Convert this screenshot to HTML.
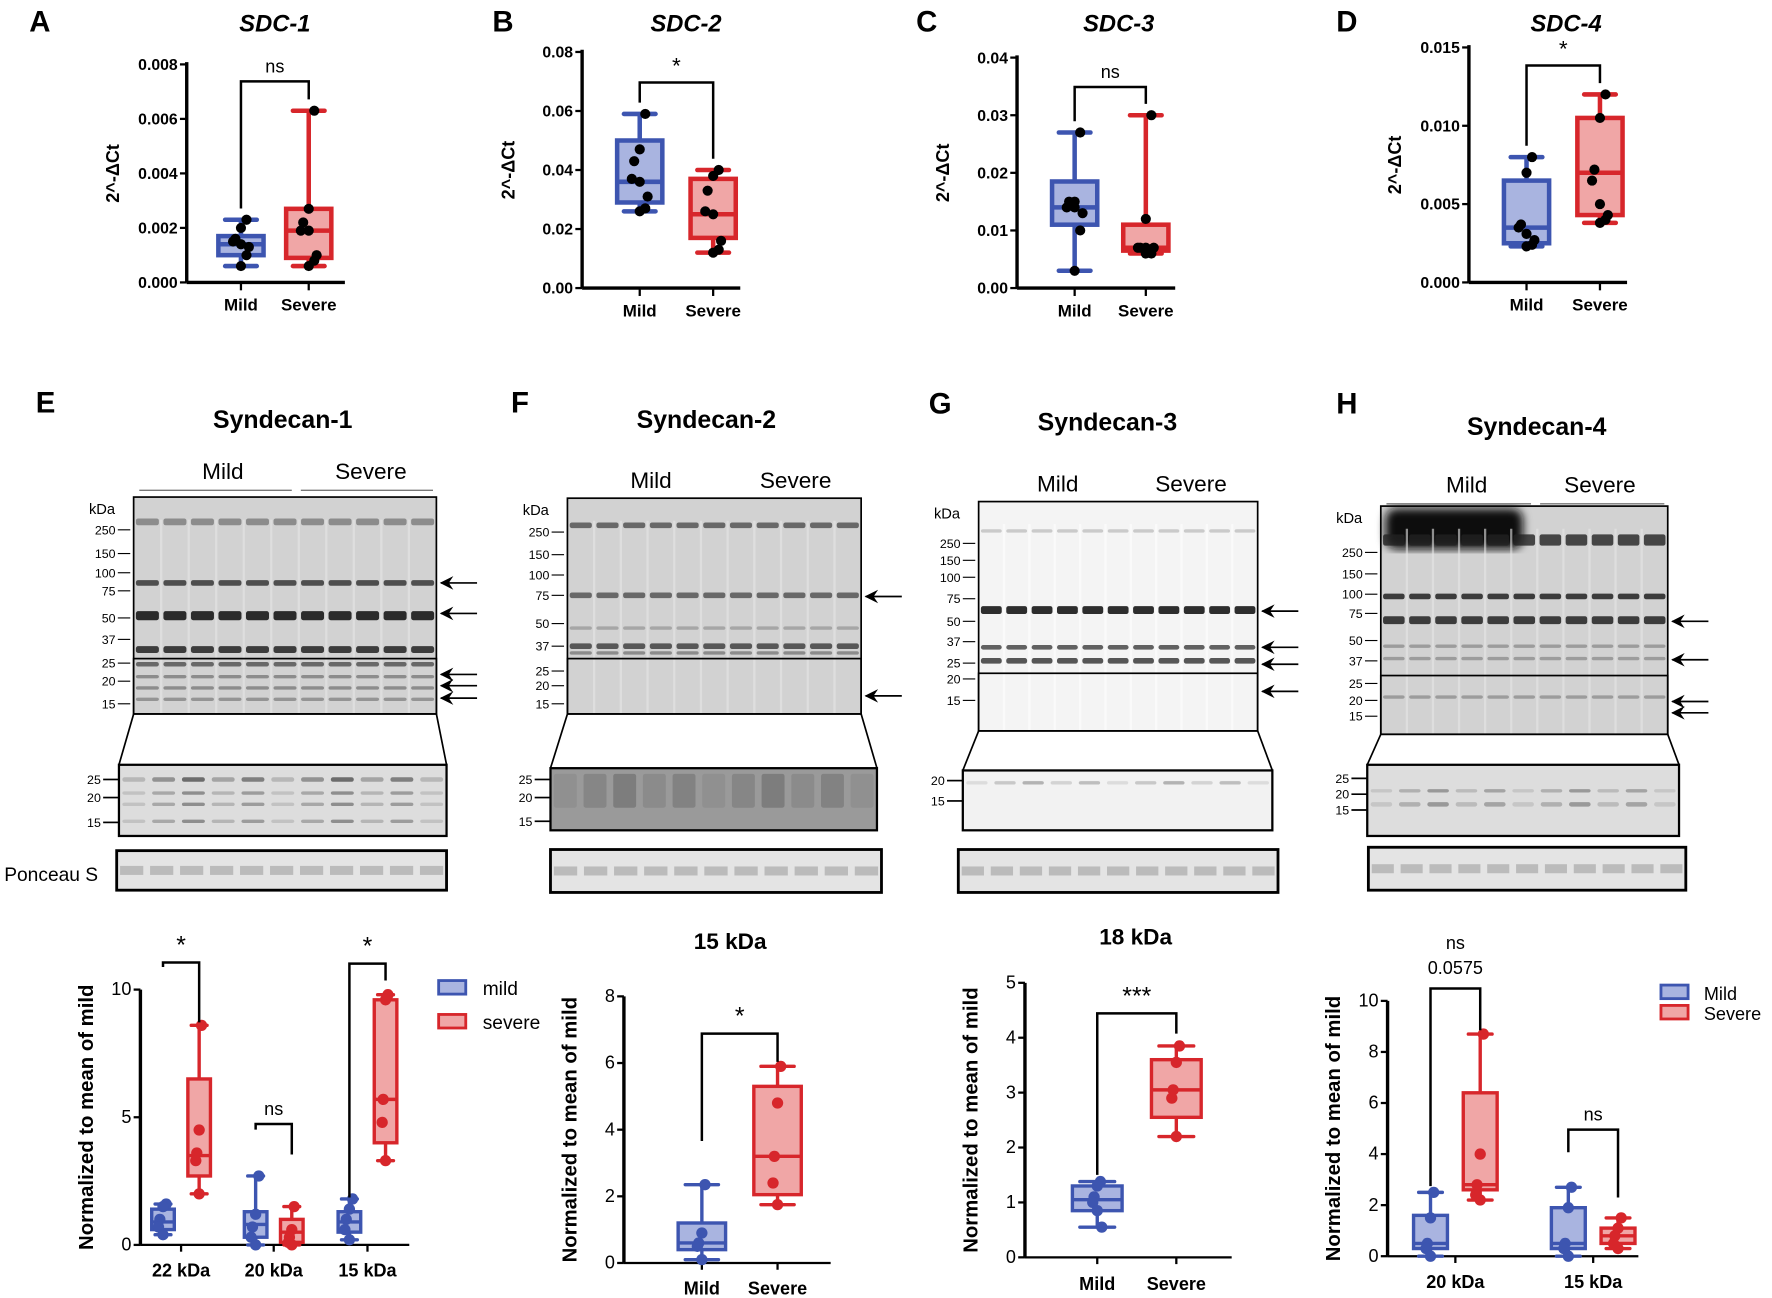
<!DOCTYPE html>
<html><head><meta charset="utf-8">
<style>
html,body{margin:0;padding:0;background:#fff;}
svg{display:block;font-family:"Liberation Sans",sans-serif;}
</style></head>
<body>
<svg id="fig" width="1772" height="1298" viewBox="0 0 1568 1149" xmlns="http://www.w3.org/2000/svg">
<defs>
<filter id="blur"><feGaussianBlur stdDeviation="4"/></filter>
</defs>
<g id="root"></g>
</svg>
<script>
// ---------- DATA ----------
const sdc1Mild=[0.0006,0.0010,0.0014,0.0017,0.0023], sdc1Severe=[0.0006,0.0009,0.0019,0.0027,0.0063];
const sdc1MildPts=[0.0023,0.0020,0.0016,0.0015,0.0014,0.0013,0.0010,0.0006], sdc1SeverePts=[0.0063,0.0027,0.0022,0.0019,0.0019,0.0010,0.0008,0.0006];
const sdc2Mild=[0.026,0.029,0.036,0.050,0.059], sdc2Severe=[0.012,0.017,0.025,0.037,0.040];
const sdc2MildPts=[0.059,0.047,0.043,0.037,0.036,0.031,0.027,0.026], sdc2SeverePts=[0.040,0.038,0.033,0.026,0.025,0.016,0.013,0.012];
const sdc3Mild=[0.003,0.011,0.014,0.0185,0.027], sdc3Severe=[0.006,0.0065,0.007,0.011,0.030];
const sdc3MildPts=[0.027,0.015,0.015,0.014,0.014,0.013,0.010,0.003], sdc3SeverePts=[0.030,0.012,0.007,0.007,0.007,0.007,0.006,0.006];
const sdc4Mild=[0.0023,0.0025,0.0035,0.0065,0.008], sdc4Severe=[0.0038,0.0043,0.007,0.0105,0.012];
const sdc4MildPts=[0.008,0.007,0.0037,0.0035,0.0031,0.0027,0.0024,0.0023], sdc4SeverePts=[0.012,0.0105,0.0072,0.0065,0.0050,0.0043,0.0040,0.0038];
const eCats=['22 kDa','20 kDa','15 kDa'];
const eMild=[[0.4,0.6,0.9,1.4,1.6],[0.0,0.3,0.8,1.3,2.7],[0.2,0.5,0.9,1.3,1.8]];
const eSevere=[[2.0,2.7,3.5,6.5,8.6],[0.0,0.1,0.5,1.0,1.5],[3.3,4.0,5.7,9.6,9.8]];
const eMildPts=[[1.6,1.5,1.0,0.7,0.4],[2.7,1.2,0.7,0.3,0.0],[1.8,1.4,1.0,0.6,0.2]];
const eSeverePts=[[8.6,4.5,3.6,3.3,2.0],[1.5,0.6,0.3,0.1,0.0],[9.8,9.6,5.7,4.8,3.3]];
const fCats=['Mild','Severe'];
const fVals=[[0.1,0.4,0.6,1.2,2.35],[1.75,2.05,3.2,5.3,5.9]];
const fPts=[[2.35,0.9,0.6,0.5,0.1],[5.9,4.8,3.2,2.4,1.75]];
const gCats=['Mild','Severe'];
const gVals=[[0.55,0.85,1.05,1.3,1.38],[2.2,2.55,3.05,3.6,3.85]];
const gPts=[[1.38,1.3,1.1,1.0,0.85,0.55],[3.85,3.55,3.05,2.9,2.2]];
const hCats=['20 kDa','15 kDa'];
const hMild=[[0.0,0.3,0.5,1.6,2.5],[0.0,0.3,0.5,1.9,2.7]];
const hSevere=[[2.2,2.6,2.8,6.4,8.7],[0.3,0.5,0.8,1.1,1.5]];
const hMildPts=[[2.5,1.5,0.5,0.3,0.0],[2.7,1.9,0.5,0.3,0.0]];
const hSeverePts=[[8.7,4.0,2.8,2.4,2.2],[1.5,1.1,0.8,0.5,0.3]];

// ---------- HELPERS ----------
const NS='http://www.w3.org/2000/svg';
const root=document.getElementById('root');
function el(tag,attrs,parent,txt){const e=document.createElementNS(NS,tag);for(const k in attrs)e.setAttribute(k,attrs[k]);if(txt!==undefined)e.textContent=txt;(parent||root).appendChild(e);return e;}
function txt(x,y,s,size,opts){opts=opts||{};const t=el('text',{x:x,y:y,'font-size':size,'text-anchor':opts.anchor||'middle','font-weight':opts.weight||'normal','font-style':opts.style||'normal',fill:opts.fill||'#000'},opts.parent,s);if(opts.rot)t.setAttribute('transform','rotate(-90 '+x+' '+y+')');return t;}
const BLUE='#3d55b0',BLUEF='#a9b4e0',RED='#d7262b',REDF='#f0a6a6';
function box(g,x,w,v,sc,col,fill,lw){
 const ys=v.map(sc);
 el('line',{x1:x,x2:x,y1:ys[4],y2:ys[0],stroke:col,'stroke-width':lw},g);
 el('line',{x1:x-w*0.35,x2:x+w*0.35,y1:ys[4],y2:ys[4],stroke:col,'stroke-width':lw,'stroke-linecap':'round'},g);
 el('line',{x1:x-w*0.35,x2:x+w*0.35,y1:ys[0],y2:ys[0],stroke:col,'stroke-width':lw,'stroke-linecap':'round'},g);
 el('rect',{x:x-w/2,y:ys[3],width:w,height:ys[1]-ys[3],fill:fill,stroke:col,'stroke-width':lw},g);
 el('line',{x1:x-w/2,x2:x+w/2,y1:ys[2],y2:ys[2],stroke:col,'stroke-width':lw},g);
}
function pts(g,x,arr,sc,col,r,spread){
 arr.forEach((v,i)=>{const dx=((i%3)-1)*spread*(i%2?1:-0.7);const c=el('circle',{cx:x+dx,cy:sc(v),r:r,fill:col},g);});
}
function bracket(g,x1,x2,y,y1,y2,label,size){
 el('polyline',{points:`${x1},${y1} ${x1},${y} ${x2},${y} ${x2},${y2}`,fill:'none',stroke:'#000','stroke-width':2.2},g);
 txt((x1+x2)/2,y-8,label,size,{parent:g});
}
function yaxis(g,x,y0,y1,ticks,sc,fmt,size,bold){
 el('line',{x1:x,x2:x,y1:y0,y2:y1,stroke:'#000','stroke-width':3},g);
 ticks.forEach(t=>{const y=sc(t);el('line',{x1:x-6,x2:x,y1:y,y2:y,stroke:'#000','stroke-width':2},g);txt(x-8,y+5,fmt(t),size,{anchor:'end',weight:bold?'bold':'normal',parent:g});});
}

// ---------- TOP PANELS ----------
function topPanel(name,letter,lx,title,tx,axX,yTop,yBot,maxV,ticks,fmt,mx,sx,mv,sv,mp,sp,brY,sig,titleY){
 const g=el('g',{});
 txt(lx,28,letter,26,{weight:'bold',parent:g});
 txt(tx,titleY||30,title,21,{weight:'bold',style:'italic',parent:g});
 const sc=v=>yBot-(v/maxV)*(yBot-yTop);
 yaxis(g,axX,yTop-2,yBot,ticks,sc,fmt,14,true);
 el('line',{x1:axX,x2:axX+140,y1:yBot,y2:yBot,stroke:'#000','stroke-width':3},g);
 [mx,sx].forEach(x=>el('line',{x1:x,x2:x,y1:yBot,y2:yBot+7,stroke:'#000','stroke-width':2},g));
 txt(mx,yBot+25,'Mild',15,{weight:'bold',parent:g});txt(sx,yBot+25,'Severe',15,{weight:'bold',parent:g});
 txt(axX-60,(yTop+yBot)/2,'2^-ΔCt',16,{weight:'bold',rot:true,parent:g});
 box(g,mx,40,mv,sc,BLUE,BLUEF,4);box(g,sx,40,sv,sc,RED,REDF,4);
 pts(g,mx,mp,sc,'#000',4.5,7);pts(g,sx,sp,sc,'#000',4.5,7);
 bracket(g,mx,sx,brY,sc(mv[4])-10,sc(sv[4])-10,sig,sig==='ns'?16:20);
}
topPanel('panel-a-sdc1','A',35,'SDC-1',243,165,57,250,0.008,[0,0.002,0.004,0.006,0.008],t=>t.toFixed(3),213,273,sdc1Mild,sdc1Severe,sdc1MildPts,sdc1SeverePts,72,'ns',28);
topPanel('panel-b-sdc2','B',445,'SDC-2',607,515,46,255,0.08,[0,0.02,0.04,0.06,0.08],t=>t.toFixed(2),566,631,sdc2Mild,sdc2Severe,sdc2MildPts,sdc2SeverePts,73,'*',28);
topPanel('panel-c-sdc3','C',820,'SDC-3',990,900,51,255,0.04,[0,0.01,0.02,0.03,0.04],t=>t.toFixed(2),951,1014,sdc3Mild,sdc3Severe,sdc3MildPts,sdc3SeverePts,77,'ns',28);
topPanel('panel-d-sdc4','D',1192,'SDC-4',1386,1300,42,250,0.015,[0,0.005,0.010,0.015],t=>t.toFixed(3),1351,1416,sdc4Mild,sdc4Severe,sdc4MildPts,sdc4SeverePts,58,'*',28);

// ---------- BLOTS ----------
function blot(name,letter,lx,ly,title,tx,ty,mildLbl,sevLbl,lblY,main,mainMarkers,split,bands,arrows,zoomB,zoomMarkers,zoomBands,pon,heavyTop,light,zoomFill){
 const g=el('g',{});
 txt(lx,ly,letter,26,{weight:'bold',parent:g});
 txt(tx,ty,title,22,{weight:'bold',parent:g});
 const [x0,y0,x1,y1]=main;
 txt(mildLbl[0],lblY,'Mild',20,{parent:g});txt(sevLbl[0],lblY,'Severe',20,{parent:g});
 el('line',{x1:x0+5,x2:mildLbl[1],y1:lblY+10,y2:lblY+10,stroke:'#777','stroke-width':1.2},g);
 el('line',{x1:mildLbl[1]+8,x2:x1-3,y1:lblY+10,y2:lblY+10,stroke:'#777','stroke-width':1.2},g);
 el('rect',{x:x0,y:y0,width:x1-x0,height:y1-y0,fill:light?'#f4f4f4':'#d2d2d2'},g);
 if(heavyTop)el('rect',{x:x0+4,y:y0+2,width:(x1-x0)*0.48,height:36,fill:'#111',rx:10,filter:'url(#blur)'},g);
 const lanes=11,lw=(x1-x0)/lanes;
 for(let i=1;i<lanes;i++)el('line',{x1:x0+i*lw,x2:x0+i*lw,y1:y0+20,y2:y1,stroke:light?'#fff':'#e6e6e6','stroke-width':2,opacity:0.6},g);
 bands.forEach(b=>{for(let i=0;i<lanes;i++)el('rect',{x:x0+i*lw+2,y:b[0]-b[1]/2,width:lw-4,height:b[1],fill:'#222',opacity:b[2],rx:2},g);});
 el('rect',{x:x0,y:y0,width:x1-x0,height:y1-y0,fill:'none',stroke:'#000','stroke-width':1.5},g);
 el('rect',{x:x0,y:split,width:x1-x0,height:y1-split,fill:'none',stroke:'#000','stroke-width':1.5},g);
 txt(x0-28,y0+15,'kDa',13,{parent:g});
 mainMarkers.forEach(m=>{txt(x0-16,m[1]+4,m[0],11,{anchor:'end',parent:g});el('line',{x1:x0-14,x2:x0-3,y1:m[1],y2:m[1],stroke:'#000','stroke-width':1},g);});
 arrows.forEach(a=>{el('line',{x1:x1+4,x2:x1+36,y1:a,y2:a,stroke:'#000','stroke-width':1.5},g);el('polygon',{points:`${x1+3},${a} ${x1+15},${a-6} ${x1+11},${a} ${x1+15},${a+6}`,fill:'#000'},g);});
 const [zx0,zy0,zx1,zy1]=zoomB;
 el('line',{x1:x0,y1:y1,x2:zx0,y2:zy0,stroke:'#000','stroke-width':1.5},g);
 el('line',{x1:x1,y1:y1,x2:zx1,y2:zy0,stroke:'#000','stroke-width':1.5},g);
 el('rect',{x:zx0,y:zy0,width:zx1-zx0,height:zy1-zy0,fill:zoomFill||(light?'#f2f2f2':'#ddd'),stroke:'#000','stroke-width':2},g);
 const zlw=(zx1-zx0)/lanes;
 zoomBands.forEach(b=>{for(let i=0;i<lanes;i++)el('rect',{x:zx0+i*zlw+3,y:b[0]-b[1]/2,width:zlw-6,height:b[1],fill:'#222',opacity:b[2]*((i*7)%5+2)/5,rx:2},g);});
 zoomMarkers.forEach(m=>{txt(zx0-16,m[1]+4,m[0],11,{anchor:'end',parent:g});el('line',{x1:zx0-14,x2:zx0,y1:m[1],y2:m[1],stroke:'#000','stroke-width':1.5},g);});
 const [px0,py0,px1,py1]=pon;
 el('rect',{x:px0,y:py0,width:px1-px0,height:py1-py0,fill:'#e4e4e4',stroke:'#000','stroke-width':2.5},g);
 const plw=(px1-px0)/lanes;
 for(let i=0;i<lanes;i++)el('rect',{x:px0+i*plw+3,y:(py0+py1)/2-4,width:plw-6,height:8,fill:'#bbb'},g);
}
blot('panel-e-syndecan1-blot','E',40,365,'Syndecan-1',250,379,[197,258],[328],424,[118,440,386,632],[['250',469],['150',490],['100',507],['75',523],['50',547],['37',566],['25',587],['20',603],['15',623]],583,
 [[462,6,0.4],[516,5,0.75],[545,8,0.95],[575,6,0.85],[588,4,0.6],[599,3,0.4],[609,3,0.4],[619,3,0.35]],[516,543,597,607,618],[105,677,395,740],[['25',690],['20',706],['15',728]],[[690,4,0.5],[702,3,0.35],[712,3,0.35],[727,3,0.35]],[103,753,395,788],false,false);
blot('panel-f-syndecan2-blot','F',460,365,'Syndecan-2',625,379,[576,639],[704],432,[502,441,762,632],[['250',471],['150',491],['100',509],['75',527],['50',552],['37',572],['25',594],['20',607],['15',623]],583,
 [[465,5,0.6],[527,5,0.6],[556,3,0.25],[572,5,0.7],[578,3,0.4]],[528,616],[487,680,776,735],[['25',690],['20',706],['15',727]],[[700,30,0.2]],[487,752,780,790],false,false,'#9a9a9a');
blot('panel-g-syndecan3-blot','G',832,366,'Syndecan-3',980,381,[936,996],[1054],435,[866,444,1113,647],[['250',481],['150',496],['100',511],['75',530],['50',550],['37',568],['25',587],['20',601],['15',620]],596,
 [[470,3,0.2],[540,7,0.95],[573,4,0.7],[585,5,0.75]],[541,573,588,612],[852,682,1126,735],[['20',691],['15',709]],[[693,3,0.25]],[848,752,1131,790],false,true);
blot('panel-h-syndecan4-blot','H',1192,366,'Syndecan-4',1360,385,[1298,1355],[1416],436,[1222,448,1476,650],[['250',489],['150',508],['100',526],['75',543],['50',567],['37',585],['25',605],['20',620],['15',634]],598,
 [[478,10,0.8],[528,5,0.85],[549,7,0.85],[572,3,0.3],[583,3,0.3],[617,3,0.3]],[550,584,621,631],[1210,677,1486,740],[['25',689],['20',703],['15',717]],[[700,3,0.3],[712,4,0.3]],[1211,750,1492,788],true,false);
txt(45,780,'Ponceau S',17,{});

// ---------- BOTTOM PANELS ----------
function bottomAxes(g,axX,yTop,yBot,maxV,ticks,xEnd,ytitle){
 const sc=v=>yBot-(v/maxV)*(yBot-yTop);
 yaxis(g,axX,yTop,yBot,ticks,sc,t=>String(t),16,false);
 el('line',{x1:axX,x2:xEnd,y1:yBot,y2:yBot,stroke:'#000','stroke-width':2},g);
 txt(axX-42,(yTop+yBot)/2,ytitle,18,{weight:'bold',rot:true,parent:g});
 return sc;
}
(function(){const g=el('g',{});
 const sc=bottomAxes(g,124,876,1102,10,[0,5,10],362,'Normalized to mean of mild');
 const cx=[160,242,325];
 eCats.forEach((c,i)=>{const x=cx[i];el('line',{x1:x,x2:x,y1:1102,y2:1108,stroke:'#000','stroke-width':2},g);txt(x,1130,c,16,{weight:'bold',parent:g});
  box(g,x-16,20,eMild[i],sc,BLUE,BLUEF,3);box(g,x+16,20,eSevere[i],sc,RED,REDF,3);
  pts(g,x-16,eMildPts[i],sc,BLUE,5,4);pts(g,x+16,eSeverePts[i],sc,RED,5,3);});
 bracket(g,144,176,852,856,905,'*',22);bracket(g,226,258,995,1000,1022,'ns',16);bracket(g,309,341,853,1060,868,'*',22);
 el('rect',{x:388,y:868,width:24,height:12,fill:BLUEF,stroke:BLUE,'stroke-width':2.5},g);txt(427,881,'mild',17,{anchor:'start',parent:g});
 el('rect',{x:388,y:898,width:24,height:12,fill:REDF,stroke:RED,'stroke-width':2.5},g);txt(427,911,'severe',17,{anchor:'start',parent:g});
})();
(function(){const g=el('g',{});
 txt(646,840,'15 kDa',20,{weight:'bold',parent:g});
 const sc=bottomAxes(g,552,882,1118,8,[0,2,4,6,8],735,'Normalized to mean of mild');
 const cx=[621,688];
 fCats.forEach((c,i)=>{const x=cx[i];el('line',{x1:x,x2:x,y1:1118,y2:1124,stroke:'#000','stroke-width':2},g);txt(x,1146,c,16,{weight:'bold',parent:g});
  box(g,x,42,fVals[i],sc,i?RED:BLUE,i?REDF:BLUEF,3);pts(g,x,fPts[i],sc,i?RED:BLUE,5,4);});
 bracket(g,621,688,915,1010,940,'*',22);
})();
(function(){const g=el('g',{});
 txt(1005,836,'18 kDa',20,{weight:'bold',parent:g});
 const sc=bottomAxes(g,907,870,1113,5,[0,1,2,3,4,5],1090,'Normalized to mean of mild');
 const cx=[971,1041];
 gCats.forEach((c,i)=>{const x=cx[i];el('line',{x1:x,x2:x,y1:1113,y2:1119,stroke:'#000','stroke-width':2},g);txt(x,1142,c,16,{weight:'bold',parent:g});
  box(g,x,44,gVals[i],sc,i?RED:BLUE,i?REDF:BLUEF,3);pts(g,x,gPts[i],sc,i?RED:BLUE,5,4);});
 bracket(g,971,1041,897,1040,915,'***',22);
})();
(function(){const g=el('g',{});
 const sc=bottomAxes(g,1228,886,1112,10,[0,2,4,6,8,10],1450,'Normalized to mean of mild');
 const cx=[1288,1410];
 hCats.forEach((c,i)=>{const x=cx[i];el('line',{x1:x,x2:x,y1:1112,y2:1118,stroke:'#000','stroke-width':2},g);txt(x,1140,c,16,{weight:'bold',parent:g});
  box(g,x-22,30,hMild[i],sc,BLUE,BLUEF,3);box(g,x+22,30,hSevere[i],sc,RED,REDF,3);
  pts(g,x-22,hMildPts[i],sc,BLUE,5,4);pts(g,x+22,hSeverePts[i],sc,RED,5,4);});
 el('polyline',{points:'1266,1050 1266,875 1310,875 1310,912',fill:'none',stroke:'#000','stroke-width':2.2},g);
 txt(1288,840,'ns',16,{parent:g});txt(1288,862,'0.0575',16,{parent:g});
 bracket(g,1388,1432,1000,1020,1060,'ns',16);
 el('rect',{x:1470,y:872,width:24,height:12,fill:BLUEF,stroke:BLUE,'stroke-width':2.5},g);txt(1508,885,'Mild',16,{anchor:'start',parent:g});
 el('rect',{x:1470,y:890,width:24,height:12,fill:REDF,stroke:RED,'stroke-width':2.5},g);txt(1508,903,'Severe',16,{anchor:'start',parent:g});
})();
</script>
</body></html>
